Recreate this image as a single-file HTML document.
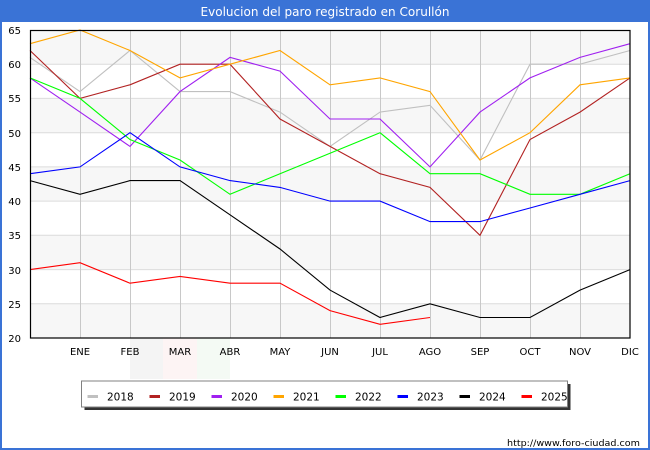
<!DOCTYPE html>
<html>
<head>
<meta charset="utf-8">
<style>
html,body{margin:0;padding:0;background:#fff;}
svg{display:block;}
</style>
</head>
<body>
<svg width="650" height="450" viewBox="0 0 650 450" xmlns="http://www.w3.org/2000/svg">
  <rect x="0" y="0" width="650" height="450" fill="#ffffff"/>
  <!-- title bar & border -->
  <rect x="0" y="0" width="650" height="22" fill="#3a73d6"/>
  <rect x="1" y="1" width="648" height="448" fill="none" stroke="#3a73d6" stroke-width="2"/>
  <text x="325" y="16" text-anchor="middle" fill="#ffffff" font-family="DejaVu Sans, Liberation Sans, sans-serif" font-size="12" textLength="249" lengthAdjust="spacingAndGlyphs">Evolucion del paro registrado en Corullón</text>

  <!-- watermark -->
  <rect x="130" y="338" width="33" height="41" fill="#f4f4f4"/>
  <rect x="163" y="338" width="34" height="41" fill="#fdf4f4"/>
  <rect x="197" y="338" width="33" height="41" fill="#f4faf4"/>

  <!-- bands -->
  <g fill="#f7f7f7">
    <rect x="30" y="30" width="600" height="34.2"/>
    <rect x="30" y="98.4" width="600" height="34.3"/>
    <rect x="30" y="166.9" width="600" height="34.2"/>
    <rect x="30" y="235.3" width="600" height="34.3"/>
    <rect x="30" y="303.8" width="600" height="34.2"/>
  </g>
  <!-- horizontal grid -->
  <g stroke="#dcdcdc" stroke-width="1">
    <line x1="30" y1="64.2" x2="630" y2="64.2"/>
    <line x1="30" y1="98.4" x2="630" y2="98.4"/>
    <line x1="30" y1="132.7" x2="630" y2="132.7"/>
    <line x1="30" y1="166.9" x2="630" y2="166.9"/>
    <line x1="30" y1="201.1" x2="630" y2="201.1"/>
    <line x1="30" y1="235.3" x2="630" y2="235.3"/>
    <line x1="30" y1="269.6" x2="630" y2="269.6"/>
    <line x1="30" y1="303.8" x2="630" y2="303.8"/>
  </g>
  <!-- vertical grid -->
  <g stroke="#c8c8c8" stroke-width="1">
    <line x1="80.5" y1="30" x2="80.5" y2="338"/>
    <line x1="130.5" y1="30" x2="130.5" y2="338"/>
    <line x1="180.5" y1="30" x2="180.5" y2="338"/>
    <line x1="230.5" y1="30" x2="230.5" y2="338"/>
    <line x1="280.5" y1="30" x2="280.5" y2="338"/>
    <line x1="330.5" y1="30" x2="330.5" y2="338"/>
    <line x1="380.5" y1="30" x2="380.5" y2="338"/>
    <line x1="430.5" y1="30" x2="430.5" y2="338"/>
    <line x1="480.5" y1="30" x2="480.5" y2="338"/>
    <line x1="530.5" y1="30" x2="530.5" y2="338"/>
    <line x1="580.5" y1="30" x2="580.5" y2="338"/>
  </g>

  <!-- series -->
  <g fill="none" stroke-width="1.1" stroke-linejoin="miter">
    <polyline stroke="#c0c0c0" points="30,57.4 80,91.6 130,50.5 180,91.6 230,91.6 280,112.1 330,146.4 380,112.1 430,105.3 480,160 530,64.2 580,64.2 630,50.5"/>
    <polyline stroke="#b22222" points="30,50.5 80,98.4 130,84.8 180,64.2 230,64.2 280,119 330,146.4 380,173.7 430,187.4 480,235.3 530,139.5 580,112.1 630,77.9"/>
    <polyline stroke="#a020f0" points="30,77.9 80,112.1 130,146.4 180,91.6 230,57.4 280,71.1 330,119 380,119 430,166.9 480,112.1 530,77.9 580,57.4 630,43.7"/>
    <polyline stroke="#ffa500" points="30,43.7 80,30 130,50.5 180,77.9 230,64.2 280,50.5 330,84.8 380,77.9 430,91.6 480,160 530,132.7 580,84.8 630,77.9"/>
    <polyline stroke="#00ff00" points="30,77.9 80,98.4 130,139.5 180,160 230,194.3 280,173.7 330,153.2 380,132.7 430,173.7 480,173.7 530,194.3 580,194.3 630,173.7"/>
    <polyline stroke="#0000ff" points="30,173.7 80,166.9 130,132.7 180,166.9 230,180.6 280,187.4 330,201.1 380,201.1 430,221.6 480,221.6 530,208 580,194.3 630,180.6"/>
    <polyline stroke="#000000" points="30,180.6 80,194.3 130,180.6 180,180.6 230,214.8 280,249 330,290.1 380,317.5 430,303.8 480,317.5 530,317.5 580,290.1 630,269.6"/>
    <polyline stroke="#ff0000" points="30,269.6 80,262.7 130,283.2 180,276.4 230,283.2 280,283.2 330,310.6 380,324.3 430,317.5"/>
  </g>

  <!-- plot border -->
  <rect x="30.5" y="30.5" width="599.5" height="307.5" fill="none" stroke="#000" stroke-width="1.2"/>

  <!-- y tick labels -->
  <g font-family="DejaVu Sans, Liberation Sans, sans-serif" font-size="10" fill="#000" text-anchor="end">
    <text x="21" y="34">65</text>
    <text x="21" y="68">60</text>
    <text x="21" y="102">55</text>
    <text x="21" y="137">50</text>
    <text x="21" y="171">45</text>
    <text x="21" y="205">40</text>
    <text x="21" y="239">35</text>
    <text x="21" y="274">30</text>
    <text x="21" y="308">25</text>
    <text x="21" y="342">20</text>
  </g>
  <!-- x tick labels -->
  <g font-family="DejaVu Sans, Liberation Sans, sans-serif" font-size="10" fill="#000" text-anchor="middle">
    <text x="80" y="355">ENE</text>
    <text x="130" y="355">FEB</text>
    <text x="180" y="355">MAR</text>
    <text x="230" y="355">ABR</text>
    <text x="280" y="355">MAY</text>
    <text x="330" y="355">JUN</text>
    <text x="380" y="355">JUL</text>
    <text x="430" y="355">AGO</text>
    <text x="480" y="355">SEP</text>
    <text x="530" y="355">OCT</text>
    <text x="580" y="355">NOV</text>
    <text x="630" y="355">DIC</text>
  </g>

  <!-- legend -->
  <rect x="84.5" y="384" width="486" height="26" fill="#333"/>
  <rect x="81.5" y="381" width="486" height="26" fill="#fff" stroke="#808080" stroke-width="1"/>
  <g stroke-width="3">
    <line x1="87.5" y1="396.5" x2="98" y2="396.5" stroke="#c0c0c0"/>
    <line x1="149.5" y1="396.5" x2="160" y2="396.5" stroke="#b22222"/>
    <line x1="211.5" y1="396.5" x2="222" y2="396.5" stroke="#a020f0"/>
    <line x1="273.5" y1="396.5" x2="284" y2="396.5" stroke="#ffa500"/>
    <line x1="335.5" y1="396.5" x2="346" y2="396.5" stroke="#00ff00"/>
    <line x1="397.5" y1="396.5" x2="408" y2="396.5" stroke="#0000ff"/>
    <line x1="459.5" y1="396.5" x2="470" y2="396.5" stroke="#000000"/>
    <line x1="521.5" y1="396.5" x2="532" y2="396.5" stroke="#ff0000"/>
  </g>
  <g font-family="DejaVu Sans, Liberation Sans, sans-serif" font-size="10.5" fill="#000">
    <text x="107" y="400.5">2018</text>
    <text x="169" y="400.5">2019</text>
    <text x="231" y="400.5">2020</text>
    <text x="293" y="400.5">2021</text>
    <text x="355" y="400.5">2022</text>
    <text x="417" y="400.5">2023</text>
    <text x="479" y="400.5">2024</text>
    <text x="541" y="400.5">2025</text>
  </g>

  <text x="640" y="446" text-anchor="end" font-family="DejaVu Sans, Liberation Sans, sans-serif" font-size="9" fill="#000" textLength="133" lengthAdjust="spacingAndGlyphs">http://www.foro-ciudad.com</text>
</svg>
</body>
</html>
